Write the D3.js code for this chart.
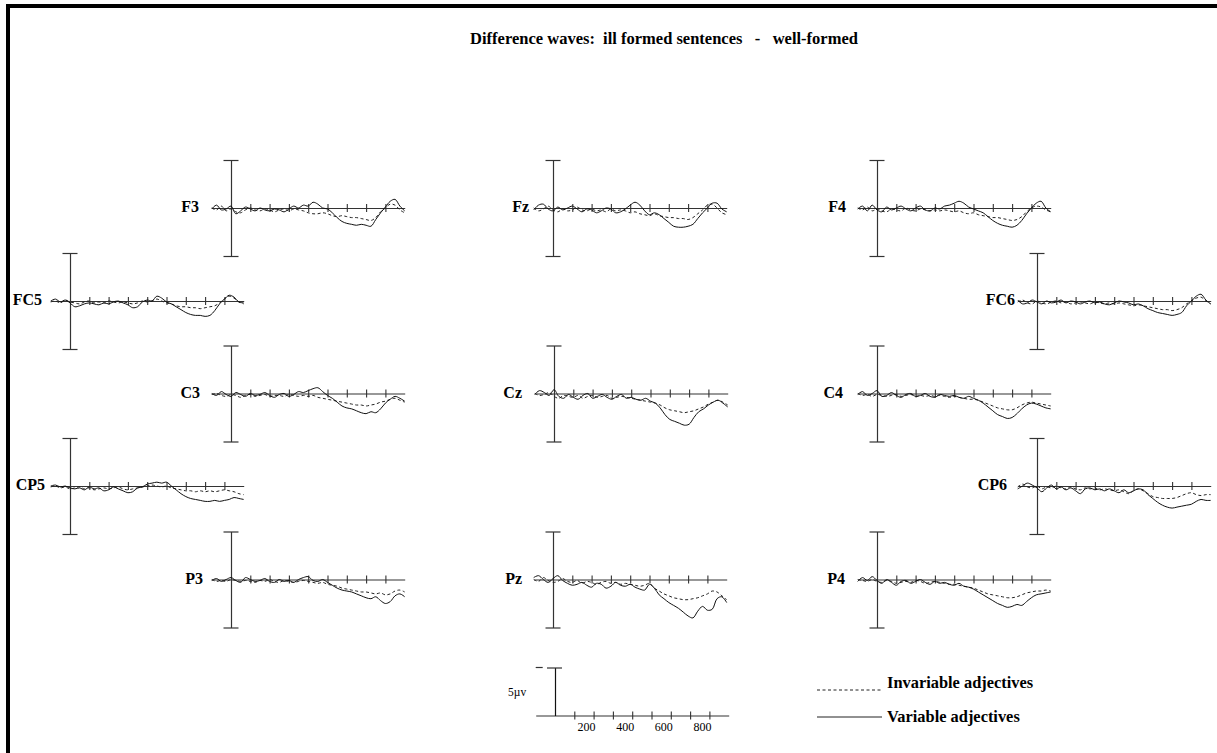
<!DOCTYPE html>
<html lang="en">
<head>
<meta charset="UTF-8">
<title>Difference waves</title>
<script src="https://cdn.jsdelivr.net/npm/d3@7"></script>
<style>
  body { margin: 0; background: #fff; }
  svg { display: block; }
  text { font-family: "Liberation Serif", "Times New Roman", serif; fill: #000; }
</style>
</head>
<body>
<div id="chart"></div>
<script>
// sample times (ms)
const times = [-100,-75,-50,-25,0,25,50,75,100,125,150,175,200,225,250,275,300,325,350,375,
  400,425,450,475,500,525,550,575,600,625,650,675,700,725,750,775,800,825,850,875,900];

// difference waves in microvolts (negative plotted up), "var" = variable adjectives (solid), "inv" = invariable (dashed)
const F3_var = [0.1,-0.3,0.2,0.1,-0.2,0.6,0.3,-0.1,0.1,0.3,0.0,0.2,0.3,0.1,0.2,0.4,0.1,-0.2,0.0,-0.3,-0.2,-0.6,-0.4,0.0,0.1,0.5,1.0,1.4,1.6,1.7,1.8,1.7,1.8,1.9,1.2,0.5,-0.1,-0.7,-0.9,-0.2,0.3];
const F3_inv = [0.0,0.2,-0.2,0.3,0.1,0.4,0.5,0.2,0.0,0.2,0.3,0.1,0.2,0.4,0.2,0.1,0.3,0.1,0.2,0.3,0.5,0.6,0.6,0.5,0.6,0.8,0.9,0.8,0.9,1.0,1.0,1.1,1.2,1.3,1.0,0.4,0.0,-0.4,-0.3,0.2,0.5];
const Fz_var = [0.2,-0.3,-0.4,0.1,0.3,-0.1,0.2,0.0,-0.2,0.1,0.4,0.1,0.2,0.5,0.3,0.0,0.1,0.5,0.4,0.1,-0.3,-0.6,-0.3,0.3,0.7,0.5,0.7,1.1,1.5,1.9,2.0,2.0,1.9,1.7,1.1,0.5,0.0,-0.5,-0.5,0.1,0.4];
const Fz_inv = [0.0,0.3,0.1,-0.2,0.2,0.4,0.1,0.3,0.2,-0.1,0.2,0.3,0.1,0.3,0.2,0.4,0.1,0.3,0.2,0.3,0.5,0.4,0.6,0.7,0.8,0.6,0.8,0.9,1.0,1.0,1.1,1.1,1.2,1.0,0.6,0.2,-0.3,-0.4,0.0,0.5,0.7];
const F4_var = [0.1,-0.2,0.3,-0.3,0.2,0.4,-0.1,0.2,0.0,-0.2,0.1,0.3,0.0,-0.2,0.2,0.3,0.0,0.1,-0.2,-0.3,-0.5,-0.7,-0.5,-0.1,0.1,0.3,0.5,0.9,1.3,1.6,1.8,1.9,2.0,1.8,1.3,0.6,0.0,-0.5,-0.7,0.0,0.4];
const F4_inv = [0.0,0.2,-0.1,0.3,0.1,0.3,0.4,0.1,0.2,0.3,0.0,0.2,0.3,0.1,0.2,0.3,0.2,0.3,0.2,0.3,0.4,0.3,0.5,0.6,0.5,0.7,0.8,0.9,1.0,1.0,1.1,1.2,1.3,1.2,0.9,0.4,0.0,-0.2,-0.1,0.2,0.4];
const FC5_var = [0.0,-0.2,0.1,-0.1,0.2,0.6,0.5,0.3,0.2,0.3,0.4,0.2,0.3,0.1,0.0,0.2,0.4,0.7,0.6,0.1,-0.1,0.0,-0.5,-0.3,0.1,0.3,0.6,0.9,1.2,1.4,1.5,1.5,1.6,1.5,1.0,0.3,-0.2,-0.6,-0.4,0.1,0.2];
const FC5_inv = [0.1,0.0,0.2,-0.1,0.1,0.2,0.3,0.1,0.0,0.2,0.1,0.2,0.0,0.1,0.2,0.1,0.2,0.3,0.2,0.0,0.1,0.0,-0.2,0.0,0.2,0.3,0.5,0.6,0.6,0.7,0.7,0.8,0.7,0.6,0.5,0.2,-0.2,-0.5,-0.3,0.1,0.3];
const FC6_var = [-0.1,0.3,0.2,-0.1,0.1,0.3,0.0,0.2,0.1,-0.1,0.2,0.0,0.1,0.3,0.1,0.0,0.2,0.1,0.3,0.4,0.2,0.0,0.1,0.2,0.4,0.3,0.5,0.8,1.0,1.2,1.3,1.4,1.5,1.4,1.2,0.5,0.0,-0.5,-0.7,-0.1,0.3];
const FC6_inv = [0.1,-0.1,0.2,0.3,0.0,0.2,0.3,0.1,0.0,0.2,0.1,0.3,0.2,0.1,0.2,0.3,0.1,0.2,0.3,0.2,0.3,0.2,0.3,0.4,0.5,0.4,0.5,0.6,0.7,0.8,0.9,0.9,1.0,0.9,0.7,0.3,0.0,-0.3,-0.4,0.0,0.3];
const C3_var = [0.0,0.2,-0.2,0.1,0.3,-0.1,0.1,0.3,0.0,0.2,0.1,-0.1,0.2,0.4,0.1,0.0,0.3,0.1,-0.2,-0.1,-0.3,-0.5,-0.6,-0.2,0.2,0.5,0.9,1.3,1.5,1.6,1.8,2.0,2.1,1.9,2.0,1.6,1.0,0.6,0.3,0.5,0.8];
const C3_inv = [0.1,0.0,0.2,0.3,0.1,0.2,0.4,0.2,0.1,0.3,0.2,0.1,0.3,0.2,0.2,0.3,0.1,0.2,0.3,0.2,0.3,0.2,0.4,0.5,0.6,0.7,0.8,0.9,1.0,1.1,1.2,1.2,1.3,1.2,1.1,0.9,0.8,0.6,0.5,0.7,0.9];
const Cz_var = [0.1,-0.3,-0.1,0.2,-0.4,0.3,0.5,0.1,0.4,0.6,0.2,0.0,0.5,0.3,0.1,0.4,0.6,0.3,0.1,0.5,0.4,0.6,0.7,0.5,0.8,1.0,1.5,2.2,2.7,2.9,3.1,3.3,3.2,2.5,1.9,1.6,1.2,0.9,0.7,1.0,1.4];
const Cz_inv = [0.0,0.2,0.1,-0.1,0.3,0.5,0.2,0.3,0.4,0.2,0.5,0.3,0.2,0.4,0.3,0.2,0.5,0.4,0.3,0.4,0.5,0.6,0.7,0.8,0.9,1.0,1.2,1.5,1.7,1.8,1.9,2.0,1.9,1.8,1.6,1.4,1.1,0.9,0.7,0.9,1.2];
const C4_var = [0.1,-0.2,0.2,0.0,-0.3,0.3,0.2,-0.1,0.2,0.4,0.1,0.0,0.3,0.2,0.0,0.3,0.4,0.1,0.2,0.3,0.2,0.4,0.5,0.3,0.5,0.7,1.0,1.4,1.8,2.2,2.4,2.6,2.5,2.1,1.6,1.2,1.0,1.1,1.3,1.5,1.6];
const C4_inv = [0.0,0.2,0.1,0.3,0.1,0.2,0.3,0.2,0.1,0.3,0.2,0.1,0.3,0.2,0.3,0.2,0.3,0.2,0.3,0.4,0.3,0.4,0.5,0.6,0.6,0.7,0.9,1.1,1.3,1.5,1.6,1.7,1.7,1.5,1.2,1.0,0.9,1.0,1.1,1.2,1.3];
const CP5_var = [0.0,-0.1,0.1,0.0,0.2,0.3,0.2,0.4,0.1,0.3,0.2,0.5,0.4,0.1,0.3,0.5,0.7,0.6,0.2,0.1,-0.2,-0.3,-0.4,-0.3,-0.4,0.0,0.4,0.8,1.1,1.3,1.4,1.5,1.6,1.6,1.5,1.6,1.5,1.4,1.2,1.3,1.4];
const CP5_inv = [0.1,0.0,0.2,0.1,0.3,0.2,0.1,0.3,0.2,0.4,0.3,0.2,0.3,0.2,0.1,0.3,0.4,0.3,0.2,0.1,0.0,-0.1,0.0,0.1,0.0,0.2,0.3,0.4,0.5,0.5,0.6,0.5,0.6,0.5,0.6,0.5,0.4,0.5,0.6,0.8,0.9];
const CP6_var = [0.3,0.0,-0.3,-0.1,0.2,0.6,0.2,-0.1,0.3,0.1,0.4,0.2,0.5,0.8,0.3,0.2,0.4,0.3,0.5,0.3,0.5,0.7,0.4,0.7,0.5,0.3,0.4,0.9,1.3,1.7,2.0,2.2,2.3,2.2,2.1,2.0,1.9,1.6,1.4,1.5,1.5];
const CP6_inv = [0.1,-0.2,0.1,0.2,0.0,0.3,0.1,0.2,0.0,0.2,0.3,0.1,0.3,0.4,0.2,0.3,0.2,0.4,0.3,0.4,0.5,0.4,0.6,0.8,0.5,0.3,0.5,0.8,1.1,1.2,1.3,1.3,1.3,1.2,1.0,0.8,0.7,0.9,1.0,0.9,0.9];
const P3_var = [0.1,-0.1,0.2,0.0,-0.2,0.1,0.3,-0.2,0.0,0.2,0.1,-0.1,0.2,0.3,0.0,0.2,0.1,0.3,0.0,-0.2,-0.3,0.1,0.2,0.0,0.3,0.6,0.9,1.1,1.2,1.3,1.5,1.7,1.9,2.0,1.8,2.2,2.5,2.3,1.7,1.5,1.8];
const P3_inv = [0.0,0.2,0.1,0.2,0.0,0.1,0.2,0.1,0.2,0.3,0.1,0.2,0.0,0.2,0.3,0.1,0.2,0.3,0.2,0.1,0.2,0.3,0.4,0.3,0.5,0.6,0.7,0.9,1.0,1.1,1.2,1.3,1.3,1.4,1.5,1.4,1.6,1.5,1.2,1.1,1.3];
const Pz_var = [-0.2,-0.4,0.0,0.3,-0.1,-0.4,0.1,0.4,0.6,0.5,0.3,0.6,0.8,0.4,0.5,0.9,0.7,0.3,0.6,0.7,0.5,0.8,1.0,1.1,0.5,0.9,1.6,2.0,2.4,2.7,3.0,3.4,3.8,4.0,3.3,2.8,3.2,3.1,2.0,1.8,2.4];
const Pz_inv = [0.0,0.2,-0.2,0.1,0.3,0.2,-0.1,0.2,0.3,0.1,0.4,0.2,0.3,0.5,0.3,0.2,0.4,0.3,0.5,0.4,0.5,0.6,0.7,0.6,0.4,0.9,1.2,1.5,1.7,1.9,2.0,2.1,2.1,2.0,1.9,1.7,1.5,1.2,1.3,1.7,2.1];
const P4_var = [0.2,-0.2,0.1,-0.3,0.1,0.4,0.0,0.3,0.6,0.2,0.1,0.4,0.2,0.0,0.3,0.5,0.2,0.4,0.3,0.5,0.6,0.4,0.7,0.8,1.0,1.3,1.6,1.9,2.2,2.5,2.7,2.9,2.8,2.6,2.7,2.3,1.9,1.6,1.5,1.4,1.3];
const P4_inv = [0.0,0.1,0.2,0.0,0.2,0.3,0.1,0.2,0.4,0.3,0.2,0.3,0.1,0.2,0.4,0.3,0.2,0.3,0.4,0.5,0.5,0.6,0.7,0.8,0.9,1.1,1.3,1.5,1.6,1.7,1.8,1.9,1.9,1.8,1.6,1.4,1.3,1.2,1.2,1.1,1.2];

const tickTimes = [100,200,300,400,500,600,700,800];
const scaleLabels = [200,400,600,800];
const legendLabels = ["Invariable adjectives", "Variable adjectives"];
const titleText = "Difference waves:  ill formed sentences   -   well-formed";

const waves = {
  F3: [F3_inv, F3_var], Fz: [Fz_inv, Fz_var], F4: [F4_inv, F4_var],
  FC5: [FC5_inv, FC5_var], FC6: [FC6_inv, FC6_var],
  C3: [C3_inv, C3_var], Cz: [Cz_inv, Cz_var], C4: [C4_inv, C4_var],
  CP5: [CP5_inv, CP5_var], CP6: [CP6_inv, CP6_var],
  P3: [P3_inv, P3_var], Pz: [Pz_inv, Pz_var], P4: [P4_inv, P4_var]
};

// layout: axis origin of each panel and label gap
const panels = [
  { name: "F3",  cx: 231,  cy: 208,   gap: 32 },
  { name: "Fz",  cx: 553,  cy: 208,   gap: 24 },
  { name: "F4",  cx: 877,  cy: 208,   gap: 31 },
  { name: "FC5", cx: 70,   cy: 301,   gap: 28 },
  { name: "FC6", cx: 1037, cy: 301,   gap: 22 },
  { name: "C3",  cx: 231,  cy: 393.5, gap: 31 },
  { name: "Cz",  cx: 554,  cy: 393.5, gap: 32 },
  { name: "C4",  cx: 877,  cy: 393.5, gap: 34 },
  { name: "CP5", cx: 70,   cy: 486,   gap: 25 },
  { name: "CP6", cx: 1037, cy: 486,   gap: 30 },
  { name: "P3",  cx: 231,  cy: 579.5, gap: 28 },
  { name: "Pz",  cx: 553,  cy: 579.5, gap: 31 },
  { name: "P4",  cx: 877,  cy: 579.5, gap: 32 }
];

const W = 1217, H = 753;
const px100 = 19.3;   // pixels per 100 ms
const halfH = 48;     // pixels per 5 µV
const axisColor = "#333";

const svg = d3.select("#chart").append("svg")
  .attr("width", W).attr("height", H);

svg.append("rect").attr("width", W).attr("height", H).attr("fill", "#fff");

// page frame (left and top edges)
svg.append("rect").attr("x", 6).attr("y", 4).attr("width", 4).attr("height", H - 4).attr("fill", "#000");
svg.append("rect").attr("x", 6).attr("y", 4).attr("width", W - 6).attr("height", 4).attr("fill", "#000");

svg.append("text")
  .attr("x", 664).attr("y", 44)
  .attr("text-anchor", "middle")
  .attr("font-size", 16.5).attr("font-weight", "bold")
  .style("white-space", "pre")
  .text(titleText);

function xScaleAt(cx) {
  return d3.scaleLinear().domain([-100, 900]).range([cx - px100, cx + 9 * px100]);
}

function timeAxis(g, x, cy) {
  const ax = g.append("g")
    .attr("transform", `translate(0,${cy})`)
    .call(d3.axisBottom(x).tickValues(tickTimes).tickSizeOuter(0).tickFormat(""));
  ax.select(".domain").attr("stroke", axisColor).attr("stroke-width", 1.1);
  ax.selectAll(".tick line").attr("y1", -4).attr("y2", 4)
    .attr("stroke", axisColor).attr("stroke-width", 1.1);
  return ax;
}

panels.forEach(p => {
  const g = svg.append("g");
  const x = xScaleAt(p.cx);
  const y = d3.scaleLinear().domain([-5, 5]).range([p.cy - halfH, p.cy + halfH]);

  timeAxis(g, x, p.cy);

  // amplitude bar with caps
  const va = g.append("g")
    .attr("transform", `translate(${p.cx},0)`)
    .call(d3.axisLeft(y).tickValues([-5, 5]).tickSizeOuter(0).tickFormat(""));
  va.select(".domain").attr("stroke", axisColor).attr("stroke-width", 1.2);
  va.selectAll(".tick line").attr("x1", -7.5).attr("x2", 7.5)
    .attr("stroke", axisColor).attr("stroke-width", 1.2);

  const line = d3.line()
    .x((d, i) => x(times[i]))
    .y(d => y(d))
    .curve(d3.curveCatmullRom.alpha(0.5));

  const [inv, vari] = waves[p.name];
  g.append("path").attr("d", line(inv))
    .attr("fill", "none").attr("stroke", "#222").attr("stroke-width", 1)
    .attr("stroke-dasharray", "3,2.5");
  g.append("path").attr("d", line(vari))
    .attr("fill", "none").attr("stroke", "#111").attr("stroke-width", 1);

  g.append("text")
    .attr("x", p.cx - p.gap).attr("y", p.cy + 4)
    .attr("text-anchor", "end")
    .attr("font-size", 16).attr("font-weight", "bold")
    .text(p.name);
});

// calibration bar
{
  const cx = 555, cy = 715.5;
  const g = svg.append("g");
  const x = xScaleAt(cx);
  const y = d3.scaleLinear().domain([-5, 0]).range([cy - halfH, cy]);
  timeAxis(g, x, cy);

  const va = g.append("g")
    .attr("transform", `translate(${cx},0)`)
    .call(d3.axisLeft(y).tickValues([-5]).tickSizeOuter(0).tickFormat(""));
  va.select(".domain").attr("stroke", "#111").attr("stroke-width", 1.2);
  va.selectAll(".tick line").attr("x1", -8).attr("x2", 7)
    .attr("stroke", "#333").attr("stroke-width", 1.2);
  g.append("line")
    .attr("x1", x(-100)).attr("x2", x(-100) + 7)
    .attr("y1", y(-5)).attr("y2", y(-5))
    .attr("stroke", "#333").attr("stroke-width", 1.2);

  g.selectAll("text.ms").data(scaleLabels).join("text")
    .attr("class", "ms")
    .attr("x", d => x(d) + 2).attr("y", cy + 15.5)
    .attr("text-anchor", "end")
    .attr("font-size", 12)
    .text(d => d);

  g.append("text")
    .attr("x", cx - 47).attr("y", cy - 19.5)
    .attr("font-size", 11.5)
    .text("5\u00b5v");
}

// legend
{
  const lx = 817, lw = 65;
  const rows = [
    { label: legendLabels[0], ly: 690, ty: 688, dash: "3,2.5" },
    { label: legendLabels[1], ly: 717, ty: 722, dash: null }
  ];
  rows.forEach(r => {
    svg.append("line")
      .attr("x1", lx).attr("x2", lx + lw)
      .attr("y1", r.ly).attr("y2", r.ly)
      .attr("stroke", "#222").attr("stroke-width", 1)
      .attr("stroke-dasharray", r.dash);
    svg.append("text")
      .attr("x", lx + lw + 5).attr("y", r.ty)
      .attr("font-size", 16.4).attr("font-weight", "bold")
      .text(r.label);
  });
}
</script>
</body>
</html>
